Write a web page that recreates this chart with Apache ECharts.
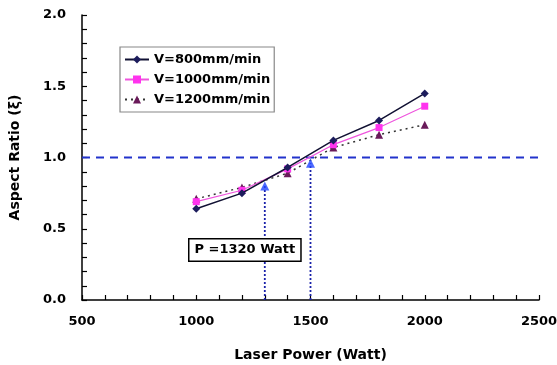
<!DOCTYPE html>
<html>
<head>
<meta charset="utf-8">
<script src="https://cdn.jsdelivr.net/npm/echarts@6/dist/echarts.min.js"></script>
<style>
  html, body { margin: 0; padding: 0; background: #fff; }
  #chart { width: 557px; height: 365px; }
</style>
</head>
<body>
<div id="chart"></div>
<script>
// laser power (W) and aspect ratio per scan speed
const power = [1000, 1200, 1400, 1600, 1800, 2000]
const v800 = [0.64, 0.75, 0.93, 1.12, 1.26, 1.45]
const v1000 = [0.69, 0.77, 0.92, 1.09, 1.21, 1.36]
const v1200 = [0.71, 0.79, 0.89, 1.07, 1.16, 1.23]
const seriesNames = ['V=800mm/min', 'V=1000mm/min', 'V=1200mm/min']

// critical points where aspect ratio reaches ~1
const critX = [1300, 1500]
const critY = [0.80, 0.96]
const refLevel = 1.0
const xRange = [500, 2500]

const FONT = 'DejaVu Sans'
const blue = '#2233cc'

const pairs = (xs, ys) => xs.map((x, i) => [x, ys[i]])

const chart = echarts.init(document.getElementById('chart'))

const series = [
  {
    name: seriesNames[0],
    type: 'line',
    data: pairs(power, v800),
    symbol: 'diamond',
    symbolSize: 8,
    itemStyle: { color: '#1c1c5c' },
    lineStyle: { color: '#111133', width: 1.5 },
    z: 5
  },
  {
    name: seriesNames[1],
    type: 'line',
    data: pairs(power, v1000),
    symbol: 'rect',
    symbolSize: 7,
    itemStyle: { color: '#ff33ee' },
    lineStyle: { color: '#ee55dd', width: 1.2 },
    z: 4
  },
  {
    name: seriesNames[2],
    type: 'line',
    data: pairs(power, v1200),
    symbol: 'triangle',
    symbolSize: 8,
    itemStyle: { color: '#6a1a5a' },
    lineStyle: { color: '#333', width: 1.5, type: [2, 4] },
    z: 3
  },
  // horizontal reference line at aspect ratio 1
  {
    type: 'line',
    data: [[xRange[0], refLevel], [xRange[1], refLevel]],
    symbol: 'none',
    lineStyle: { color: blue, width: 1.8, type: [8, 6] },
    silent: true,
    z: 1
  },
  // blue triangles at critical points
  {
    type: 'scatter',
    data: pairs(critX, critY),
    symbol: 'triangle',
    symbolSize: 9,
    itemStyle: { color: '#1f44ff' },
    z: 6
  }
]

// dotted drop lines from critical points
critX.forEach((x, i) => {
  series.push({
    type: 'line',
    data: [[x, 0], [x, critY[i]]],
    symbol: 'none',
    lineStyle: { color: '#1a22aa', width: 1.8, type: [2, 2] },
    silent: true,
    z: 1
  })
})

chart.setOption({
  animation: false,
  backgroundColor: '#fff',
  textStyle: { fontFamily: FONT },
  grid: { left: 82, right: 18, top: 15, bottom: 65, outerBoundsMode: 'none' },
  legend: {
    data: seriesNames,
    orient: 'vertical',
    left: 120,
    top: 47,
    itemGap: 7,
    itemWidth: 24,
    itemHeight: 10,
    padding: [6, 4, 6, 4],
    borderColor: '#888',
    borderWidth: 1.2,
    backgroundColor: '#fff',
    textStyle: { fontFamily: FONT, fontWeight: 'bold', fontSize: 13, color: '#000' }
  },
  xAxis: {
    type: 'value',
    min: xRange[0],
    max: xRange[1],
    interval: 500,
    name: 'Laser Power (Watt)',
    nameLocation: 'middle',
    nameGap: 48,
    nameTextStyle: { fontFamily: FONT, fontWeight: 'bold', fontSize: 14, color: '#000' },
    axisLine: { lineStyle: { color: '#000', width: 1.5 } },
    axisTick: { inside: true, length: 5, lineStyle: { color: '#000', width: 1.2 } },
    minorTick: { show: true, splitNumber: 5, length: 5, lineStyle: { color: '#000', width: 1.2 } },
    axisLabel: {
      fontFamily: FONT, fontWeight: 'bold', fontSize: 13, color: '#000', margin: 15,
      formatter: v => String(v)
    },
    splitLine: { show: false }
  },
  yAxis: {
    type: 'value',
    min: 0,
    max: 2,
    interval: 0.5,
    name: 'Aspect Ratio (ξ)',
    nameLocation: 'middle',
    nameGap: 60,
    nameTextStyle: { fontFamily: FONT, fontWeight: 'bold', fontSize: 14, color: '#000' },
    axisLine: { show: true, lineStyle: { color: '#000', width: 1.5 } },
    axisTick: { inside: true, length: 5, lineStyle: { color: '#000', width: 1.2 } },
    minorTick: { show: true, splitNumber: 5, length: 5, lineStyle: { color: '#000', width: 1.2 } },
    axisLabel: {
      fontFamily: FONT, fontWeight: 'bold', fontSize: 13, color: '#000', margin: 16,
      formatter: v => v.toFixed(1)
    },
    splitLine: { show: false }
  },
  graphic: [{
    type: 'text',
    left: 188,
    top: 238,
    z: 10,
    style: {
      text: 'P =1320 Watt',
      font: 'bold 13px "DejaVu Sans"',
      fill: '#000',
      backgroundColor: '#fff',
      borderColor: '#000',
      borderWidth: 1.5,
      padding: [4, 5, 4, 5]
    }
  }],
  series: series
})
</script>
</body>
</html>
